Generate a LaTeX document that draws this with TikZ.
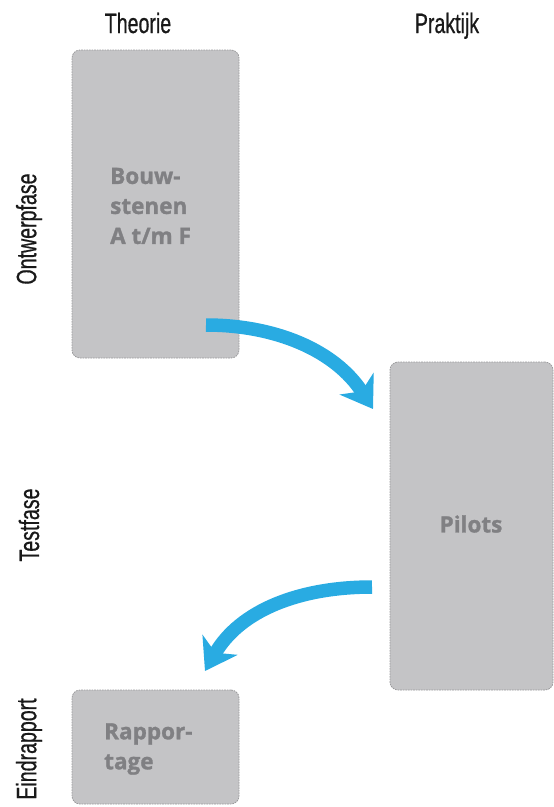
\documentclass[tikz,border=0pt]{standalone}
\usepackage{fontspec}
\setmainfont{Liberation Sans}
\newfontfamily\condfont[FakeStretch=0.70,FakeBold=0.6]{Liberation Sans}
\newfontfamily\boxfont[FakeBold=1.2]{Open Sans}
\usetikzlibrary{arrows.meta}
\definecolor{boxgray}{HTML}{C4C4C6}
\definecolor{bordergray}{HTML}{9A9A9C}
\definecolor{txtgray}{HTML}{808083}
\definecolor{arrowblue}{HTML}{29ABE2}
\begin{document}
\begin{tikzpicture}[x=1pt,y=-1pt,
  phase/.style={draw=bordergray, fill=boxgray, rounded corners=8pt,
    dash pattern=on 1.6pt off 1pt, line width=0.8pt, inner sep=0pt},
  phasetext/.style={font=\boxfont\bfseries\fontsize{22.5}{30}\selectfont, text=txtgray,
    align=left, inner sep=0pt},
  colhead/.style={font=\condfont\fontsize{28}{32}\selectfont, text=black!90, anchor=base},
  rowhead/.style={font=\condfont\fontsize{28}{32}\selectfont, text=black!90, rotate=90},
  flow/.style={draw=arrowblue, line width=13.5pt,
    -{Stealth[length=30pt,width=40pt,inset=9pt]}}]
\useasboundingbox (0,0) rectangle (554,807);
\node[colhead] (theorie) at (138,33) {Theorie};
\node[colhead] (praktijk) at (447,33) {Praktijk};
\node[rowhead] (ontwerp) at (29,229) {Ontwerpfase};
\node[rowhead] (test) at (29,525) {Testfase};
\node[rowhead] (eind) at (29,749) {Eindrapport};
\node[phase, minimum width=167pt, minimum height=308pt] (bouw) at (155.5,204) {};
\node[phase, minimum width=163pt, minimum height=328pt] (pilots) at (471.5,526) {};
\node[phase, minimum width=167pt, minimum height=114pt] (rapport) at (155.5,747) {};
\node[phasetext, anchor=west] (bouwtxt) at (110,206) {Bouw-\\stenen\\A t/m F};
\node[phasetext] (pilotstxt) at (471,524) {Pilots};
\node[phasetext, anchor=west] (rapporttxt) at (104,749) {Rappor-\\tage};
\coordinate (a1s) at (206,325);
\coordinate (a1e) at (373,409);
\coordinate (a2s) at (372,587);
\coordinate (a2e) at (205,671);
\draw[flow] (a1s) .. controls (275,325) and (335,350) .. (a1e);
\draw[flow] (a2s) .. controls (300,587) and (240,610) .. (a2e);
\end{tikzpicture}
\end{document}
